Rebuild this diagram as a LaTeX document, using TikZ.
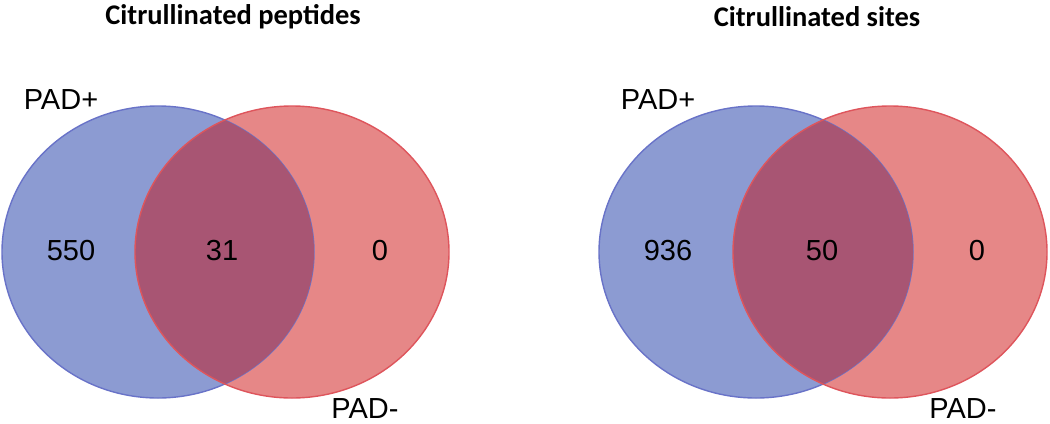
\documentclass[tikz,border=0pt]{standalone}
\usepackage{fontspec}
\setmainfont{Liberation Sans}
\newfontfamily\titlefont{Carlito}
\definecolor{plusfill}{RGB}{140,155,210}
\definecolor{plusline}{RGB}{105,115,200}
\definecolor{minusfill}{RGB}{230,135,135}
\definecolor{minusline}{RGB}{222,85,92}
\definecolor{bothfill}{RGB}{168,85,115}
\tikzset{
  settitle/.style={font=\titlefont\bfseries\fontsize{16.2}{19}\selectfont},
  setlabel/.style={inner sep=1pt, font=\fontsize{16.5}{19}\selectfont},
  plusset/.style={fill=plusfill},
  minusset/.style={fill=minusfill},
  bothset/.style={fill=bothfill},
}
\begin{document}
\begin{tikzpicture}[x=0.02cm,y=-0.02cm]
  \useasboundingbox (0,0) rectangle (1050,423);

  % peptides
  \fill[plusset] (158,252) ellipse [x radius=156, y radius=146];
  \fill[minusset] (292,252) ellipse [x radius=157, y radius=146];
  \draw[plusline, line width=0.8] (158,252) ellipse [x radius=156, y radius=146];
  \begin{scope}
    \clip (158,252) ellipse [x radius=156, y radius=146];
    \fill[bothset] (292,252) ellipse [x radius=157, y radius=146];
  \end{scope}
  \draw[minusline, line width=0.8] (292,252) ellipse [x radius=157, y radius=146];
  \node[settitle] (pepTitle) at (233,17) {Citrullinated peptides};
  \node[setlabel] (pepPlus) at (61,100) {PAD+};
  \node[setlabel] (pepMinus) at (365,409) {PAD-};
  \node[setlabel] (pepOnlyPlus) at (71,251) {550};
  \node[setlabel] (pepBoth) at (222,251) {31};
  \node[setlabel] (pepOnlyMinus) at (380,251) {0};

  % sites
  \fill[plusset] (756,252) ellipse [x radius=157, y radius=146];
  \fill[minusset] (890,252) ellipse [x radius=157, y radius=146];
  \draw[plusline, line width=0.8] (756,252) ellipse [x radius=157, y radius=146];
  \begin{scope}
    \clip (756,252) ellipse [x radius=157, y radius=146];
    \fill[bothset] (890,252) ellipse [x radius=157, y radius=146];
  \end{scope}
  \draw[minusline, line width=0.8] (890,252) ellipse [x radius=157, y radius=146];
  \node[settitle] (siteTitle) at (817,17) {Citrullinated sites};
  \node[setlabel] (sitePlus) at (658,100) {PAD+};
  \node[setlabel] (siteMinus) at (963,409) {PAD-};
  \node[setlabel] (siteOnlyPlus) at (668,251) {936};
  \node[setlabel] (siteBoth) at (822,251) {50};
  \node[setlabel] (siteOnlyMinus) at (977,251) {0};
\end{tikzpicture}
\end{document}
